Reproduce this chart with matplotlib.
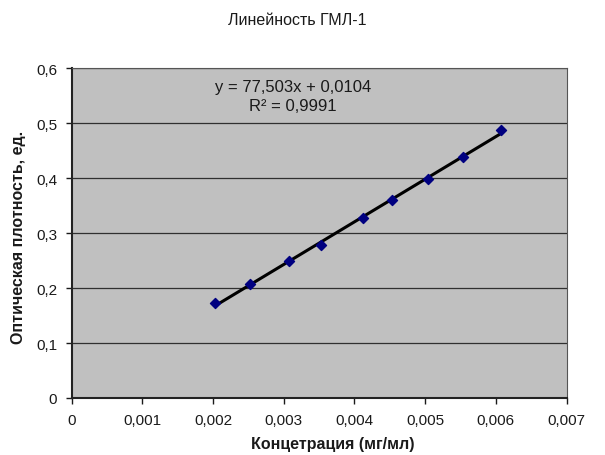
import matplotlib
matplotlib.use("Agg")
import matplotlib.pyplot as plt
import numpy as np
from matplotlib.ticker import FuncFormatter

plt.rcParams['font.family'] = ['Liberation Sans', 'DejaVu Sans']

conc = [0.00203, 0.00252, 0.00307, 0.00353, 0.00412, 0.00453, 0.00504, 0.00553, 0.00607]
absorb = [0.173, 0.207, 0.249, 0.279, 0.327, 0.360, 0.398, 0.439, 0.487]
slope, intercept = 77.503, 0.0104
eq_text = "y = 77,503x + 0,0104\nR² = 0,9991"
title = "Линейность ГМЛ-1"
xlabel = "Концетрация (мг/мл)"
ylabel = "Оптическая плотность, ед."

fig = plt.figure(figsize=(6.05, 4.56), dpi=100)
ax = fig.add_axes([0.1185, 0.125, 0.818, 0.7235])
ax.set_facecolor('#C0C0C0')

x = np.array(conc)
xl = np.array([x.min(), x.max()])
ax.plot(xl, slope * xl + intercept, color='black', lw=2.2, zorder=3)
ax.scatter(conc, absorb, marker='D', s=26, color='#000080', zorder=4)

ax.set_xlim(0, 0.007)
ax.set_ylim(0, 0.6)
ax.set_xticks(np.arange(0, 0.0071, 0.001))
ax.set_yticks(np.arange(0, 0.61, 0.1))
fmt = lambda v, p: ('%g' % round(v, 4)).replace('.', ',')
ax.xaxis.set_major_formatter(FuncFormatter(fmt))
ax.yaxis.set_major_formatter(FuncFormatter(fmt))
ax.grid(axis='y', color='#303030', lw=0.9)
ax.set_axisbelow(True)
ax.tick_params(direction='out', length=4, width=1, labelsize=11, colors='#1a1a1a')
ax.tick_params(axis='x', pad=7)
ax.tick_params(axis='y', pad=6.5)
ax.tick_params(top=False, right=False)
for s in ['left', 'bottom']:
    ax.spines[s].set_linewidth(1.5)
    ax.spines[s].set_color('#222222')
for s in ['top', 'right']:
    ax.spines[s].set_linewidth(0.8)
    ax.spines[s].set_color('#555555')

ax.text(0.00313, 0.549, eq_text, ha='center', va='center', fontsize=12,
        linespacing=1.3, color='#1a1a1a')

fig.text(0.491, 0.954, title, ha='center', va='center', fontsize=11.5, color='#1a1a1a')
ax.set_xlabel(xlabel, fontsize=11.5, fontweight='bold', color='#1a1a1a')
ax.xaxis.label.set_va('center')
ax.xaxis.set_label_coords(0.528, -0.139)
ax.set_ylabel(ylabel, fontsize=11.5, fontweight='bold', color='#1a1a1a')
ax.yaxis.label.set_va('center')
ax.yaxis.set_label_coords(-0.1065, 0.49)

fig.savefig('out.png', dpi=100)
